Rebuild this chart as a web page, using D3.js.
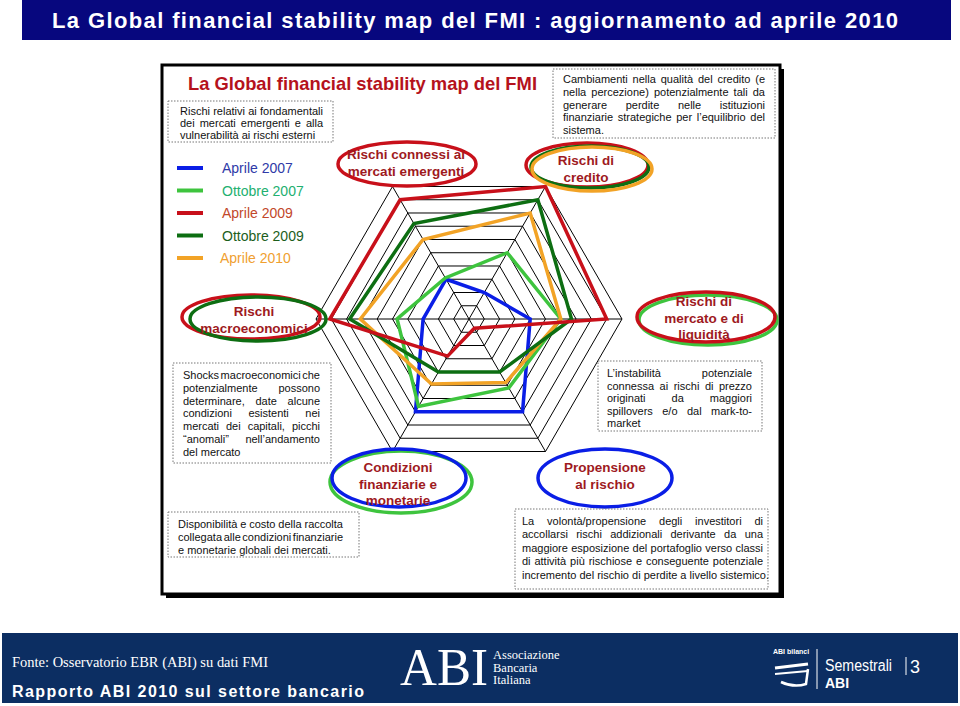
<!doctype html>
<html>
<head>
<meta charset="utf-8">
<title>La Global financial stability map del FMI</title>
<script src="https://d3js.org/d3.v7.min.js"></script>
<style>
  body { margin: 0; background: #fff; }
  svg { display: block; }
  .body-txt { font-family: "Liberation Sans", Arial, sans-serif; fill: #111; }
  .lbl { font-family: "Liberation Sans", Arial, sans-serif; font-weight: bold; fill: #9e1a1e; text-anchor: middle; }
  .grid { fill: none; stroke: #000; stroke-width: 1; }
  .series { fill: none; stroke-width: 3.5; stroke-linejoin: miter; }
  .box { fill: none; stroke: #777; stroke-width: 1; stroke-dasharray: 1.5 1.5; }
</style>
</head>
<body>
<div id="chart"></div>
<script>
// axes of the map, counter-clockwise from the right
var axes = ["Rischi di mercato e di liquidità", "Rischi di credito", "Rischi connessi ai mercati emergenti",
            "Rischi macroeconomici", "Condizioni finanziarie e monetarie", "Propensione al rischio"];
var angles = [0, 60, 120, 180, 240, 300];

// values per axis (0 = centre, 10 = outer ring), same order as axes
var apr2007 = [4, 2, 3, 3, 7, 7];
var ott2007 = [6, 5, 3.1, 4.7, 6.6, 5.2];
var apr2009 = [9, 10, 9, 9.1, 2.8, 0.7];
var ott2009 = [6.7, 9, 7.2, 7.8, 4, 4];
var apr2010 = [6, 8, 6, 7.1, 4.9, 4.8];

var seriesNames = ["Aprile 2007", "Ottobre 2007", "Aprile 2009", "Ottobre 2009", "Aprile 2010"];
var lineColors = ["#0a1ee6", "#3ec43e", "#c8101a", "#0d6e12", "#f2a326"];
var textColors = ["#2f3aa8", "#22b070", "#c2472a", "#1c5e1c", "#f0a030"];
var rings = d3.range(1, 11);

var W = 960, H = 706;
var svg = d3.select("#chart").append("svg").attr("width", W).attr("height", H);

// ---- top title bar
svg.append("rect").attr("x", 22).attr("y", 0).attr("width", 929).attr("height", 40).attr("fill", "#07077e");
svg.append("text").attr("x", 52).attr("y", 28)
  .attr("textLength", 846).attr("lengthAdjust", "spacing")
  .style("font-family", "'Liberation Sans Narrow', 'Liberation Sans', Arial, sans-serif")
  .style("font-weight", "bold").style("font-size", "22px").style("fill", "#fff")
  .text("La Global financial stability map del FMI : aggiornamento ad aprile 2010");

// ---- framed panel
svg.append("rect").attr("x", 166).attr("y", 69).attr("width", 618).attr("height", 529).attr("fill", "#000");
svg.append("rect").attr("x", 162).attr("y", 65).attr("width", 618).attr("height", 529)
  .attr("fill", "#fff").attr("stroke", "#000").attr("stroke-width", 3);

svg.append("text").attr("x", 188).attr("y", 90)
  .attr("textLength", 349).attr("lengthAdjust", "spacingAndGlyphs")
  .style("font-family", "'Liberation Sans Narrow', 'Liberation Sans', Arial, sans-serif")
  .style("font-weight", "bold").style("font-size", "19px").style("fill", "#b5121c")
  .text("La Global financial stability map del FMI");

// ---- radar
var cx = 469, cy = 319;
var r = d3.scaleLinear().domain([0, 10]).range([0, 153]);
function pt(v, a) {
  var rad = a * Math.PI / 180;
  return [cx + r(v) * Math.cos(rad), cy - r(v) * Math.sin(rad)];
}
var g = svg.append("g");
rings.forEach(function(k) {
  g.append("path").attr("class", "grid")
    .attr("d", d3.line()(angles.map(function(a) { return pt(k, a); })) + "Z");
});
angles.forEach(function(a) {
  g.append("path").attr("class", "grid").attr("d", d3.line()([pt(0, a), pt(10, a)]));
});

var allSeries = [apr2007, ott2007, apr2010, ott2009, apr2009];
var order = [0, 1, 4, 3, 2];
allSeries.forEach(function(vals, i) {
  var idx = order[i];
  g.append("path").attr("class", "series").style("stroke", lineColors[idx])
    .attr("d", d3.line()(vals.map(function(v, j) { return pt(v, angles[j]); })) + "Z");
});

// ---- legend
var legY = d3.scalePoint().domain(seriesNames).range([168, 258]);
seriesNames.forEach(function(n, i) {
  svg.append("line").attr("x1", 177).attr("x2", 203).attr("y1", legY(n)).attr("y2", legY(n))
    .attr("stroke", lineColors[i]).attr("stroke-width", 4);
  svg.append("text").attr("x", i === 4 ? 220 : 222).attr("y", legY(n) + 5)
    .style("font-family", "'Liberation Sans', Arial, sans-serif").style("font-size", "14px")
    .style("fill", textColors[i]).text(n);
});

// ---- axis labels with ellipses
var labelDefs = [
  { lines: ["Rischi di", "mercato e di", "liquidità"], x: 704, y: 306, ell: [[708, 320, 69, 25, "#3ec43e"], [706, 317, 69, 25, "#c8101a"]] },
  { lines: ["Rischi di", "credito"], x: 586, y: 165, ell: [[587, 165, 61, 22, "#c8101a"], [590, 167, 59, 21, "#0d6e12"], [592, 169, 60, 22, "#f2a326"]] },
  { lines: ["Rischi connessi ai", "mercati emergenti"], x: 406, y: 159, ell: [[407, 164, 69, 22, "#c8101a"]] },
  { lines: ["Rischi", "macroeconomici"], x: 254, y: 316, ell: [[251, 317, 69, 22, "#c8101a"], [258, 319, 68, 22, "#0d6e12"]] },
  { lines: ["Condizioni", "finanziarie e", "monetarie"], x: 398, y: 472, ell: [[401, 482, 71, 31, "#3ec43e"], [399, 478, 67, 29, "#0a1ee6"]] },
  { lines: ["Propensione", "al rischio"], x: 605, y: 472, ell: [[605, 478, 67, 29, "#0a1ee6"]] }
];
labelDefs.forEach(function(d) {
  d.ell.forEach(function(e) {
    svg.append("ellipse").attr("cx", e[0]).attr("cy", e[1]).attr("rx", e[2]).attr("ry", e[3])
      .attr("fill", "none").attr("stroke", e[4]).attr("stroke-width", 3.5);
  });
  var t = svg.append("text").attr("class", "lbl").style("font-size", "13.5px");
  d.lines.forEach(function(l, i) {
    t.append("tspan").attr("x", d.x).attr("y", d.y + i * 16.5).text(l);
  });
});

// ---- dotted annotation boxes with justified text
function para(x0, y0, w, h, tx, ty, tw, lh, size, lines) {
  svg.append("rect").attr("class", "box").attr("x", x0).attr("y", y0).attr("width", w).attr("height", h);
  var pg = svg.append("g").attr("class", "body-txt").style("font-size", size + "px");
  lines.forEach(function(ln, i) {
    var t = pg.append("text").attr("y", ty + i * lh);
    var words = ln.split(" ");
    if (i === lines.length - 1 || words.length === 1) { t.attr("x", tx).text(ln); return; }
    var widths = words.map(function(wd) {
      var m = pg.append("text").text(wd);
      var l = m.node().getComputedTextLength();
      m.remove();
      return l;
    });
    var gap = (tw - d3.sum(widths)) / (words.length - 1);
    var xx = tx;
    words.forEach(function(wd, j) {
      t.append("tspan").attr("x", xx).text(wd);
      xx += widths[j] + gap;
    });
  });
}

para(168, 101, 165, 41, 180, 115, 143, 12, 11,
  ["Rischi relativi ai fondamentali", "dei mercati emergenti e alla", "vulnerabilità ai rischi esterni"]);
para(553, 69, 222, 69, 563, 83, 202, 12.8, 11,
  ["Cambiamenti nella qualità del credito (e", "nella percezione) potenzialmente tali da",
   "generare perdite nelle istituzioni", "finanziarie strategiche per l’equilibrio del", "sistema."]);
para(173, 363, 158, 100, 183, 379, 137, 12.8, 11,
  ["Shocks macroeconomici che", "potenzialmente possono", "determinare, date alcune",
   "condizioni esistenti nei", "mercati dei capitali, picchi", "“anomali” nell’andamento", "del mercato"]);
para(598, 361, 164, 70, 607, 377, 145, 12.6, 11,
  ["L’instabilità potenziale", "connessa ai rischi di prezzo", "originati da maggiori",
   "spillovers e/o dal mark-to-", "market"]);
para(168, 512, 191, 45, 178, 528, 165, 13, 11,
  ["Disponibilità e costo della raccolta", "collegata alle condizioni finanziarie",
   "e monetarie globali dei mercati."]);
para(515, 509, 253, 80, 522, 525, 241, 13.4, 11,
  ["La volontà/propensione degli investitori di", "accollarsi rischi addizionali derivante da una",
   "maggiore esposizione del portafoglio verso classi", "di attività più rischiose e conseguente potenziale",
   "incremento del rischio di perdite a livello sistemico."]);

// ---- footer
svg.append("rect").attr("x", 2).attr("y", 633).attr("width", 956).attr("height", 70).attr("fill", "#0c2e62");
svg.append("text").attr("x", 12).attr("y", 667)
  .attr("textLength", 256).attr("lengthAdjust", "spacingAndGlyphs")
  .style("font-family", "'Liberation Serif', 'Times New Roman', serif").style("font-size", "15px").style("fill", "#fff")
  .text("Fonte: Osservatorio EBR (ABI) su dati FMI");
svg.append("text").attr("x", 12).attr("y", 697)
  .attr("textLength", 352).attr("lengthAdjust", "spacing")
  .style("font-family", "'Liberation Sans', Arial, sans-serif").style("font-weight", "bold")
  .style("font-size", "16px").style("fill", "#fff")
  .text("Rapporto ABI 2010 sul settore bancario");

svg.append("text").attr("x", 400).attr("y", 685)
  .attr("textLength", 88).attr("lengthAdjust", "spacingAndGlyphs")
  .style("font-family", "'Liberation Serif', 'Times New Roman', serif").style("font-size", "52px").style("fill", "#fff")
  .text("ABI");
["Associazione", "Bancaria", "Italiana"].forEach(function(s, i) {
  svg.append("text").attr("x", 493).attr("y", 659 + i * 12.5)
    .style("font-family", "'Liberation Serif', 'Times New Roman', serif").style("font-size", "12.5px").style("fill", "#fff")
    .text(s);
});

// right logo
svg.append("text").attr("x", 773).attr("y", 654)
  .style("font-family", "'Liberation Sans Narrow', Arial, sans-serif").style("font-weight", "bold")
  .style("font-size", "7px").style("fill", "#fff").text("ABI bilanci");
svg.append("path").attr("d", "M775,668 L808,664").attr("stroke", "#fff").attr("stroke-width", 3).attr("fill", "none");
svg.append("path").attr("d", "M775,674 L808,671").attr("stroke", "#fff").attr("stroke-width", 2).attr("fill", "none");
svg.append("path").attr("d", "M781,682 Q794,688 806,684 L808,669").attr("stroke", "#fff").attr("stroke-width", 2.5).attr("fill", "none");
svg.append("line").attr("x1", 817).attr("x2", 817).attr("y1", 649).attr("y2", 689).attr("stroke", "#fff").attr("stroke-width", 1);
svg.append("text").attr("x", 825).attr("y", 671)
  .attr("textLength", 67).attr("lengthAdjust", "spacingAndGlyphs")
  .style("font-family", "'Liberation Sans Narrow', Arial, sans-serif").style("font-size", "16px").style("fill", "#fff")
  .text("Semestrali");
svg.append("text").attr("x", 825).attr("y", 688)
  .style("font-family", "'Liberation Sans Narrow', Arial, sans-serif").style("font-weight", "bold")
  .style("font-size", "14px").style("fill", "#fff").text("ABI");
svg.append("line").attr("x1", 906).attr("x2", 906).attr("y1", 657).attr("y2", 675).attr("stroke", "#fff").attr("stroke-width", 1);
svg.append("text").attr("x", 910).attr("y", 673)
  .style("font-family", "'Liberation Sans', Arial, sans-serif").style("font-size", "18px").style("fill", "#fff").text("3");
</script>
</body>
</html>
